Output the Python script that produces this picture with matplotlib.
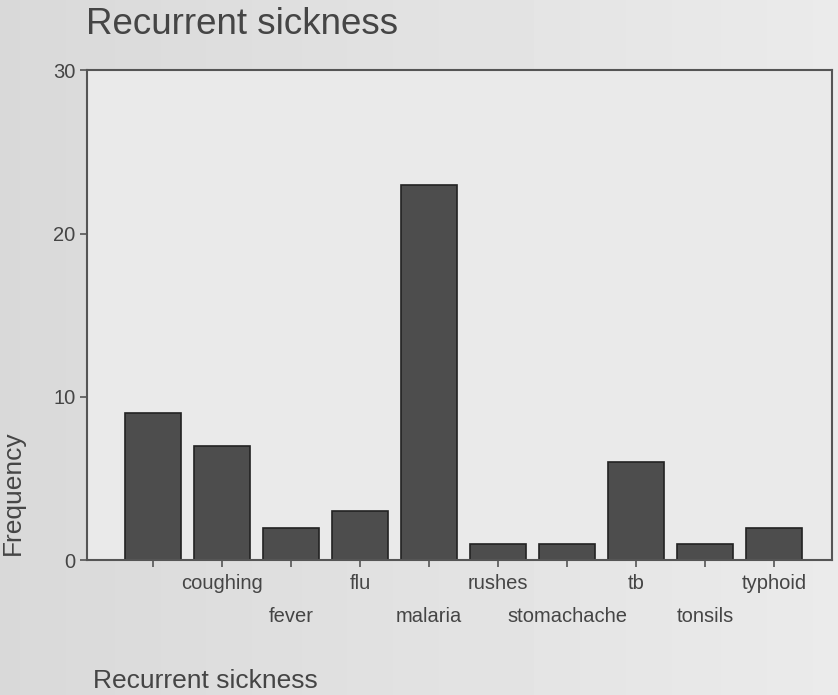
import numpy as np
import matplotlib
matplotlib.use("Agg")
import matplotlib.pyplot as plt

# data
sickness = ["", "coughing", "fever", "flu", "malaria", "rushes",
            "stomachache", "tb", "tonsils", "typhoid"]
frequency = [9, 7, 2, 3, 23, 1, 1, 6, 1, 2]
yticks = [0, 10, 20, 30]

plt.rcParams['font.family'] = ['Liberation Sans', 'DejaVu Sans']
txt = '#454545'

fig = plt.figure(figsize=(8.38, 6.95), dpi=100)
fig.patch.set_facecolor('#e4e4e4')

# soft grey scan background
bg = fig.add_axes([0, 0, 1, 1], zorder=-10)
grad = np.linspace(0.85, 0.92, 256)[None, :] * np.ones((64, 1))
bg.imshow(grad, cmap='gray', vmin=0, vmax=1, aspect='auto', extent=[0, 1, 0, 1])
bg.axis('off')

ax = fig.add_axes([0.104, 0.194, 0.889, 0.705])
ax.set_facecolor('#eaeaea')
x = np.arange(len(sickness))
ax.bar(x, frequency, width=0.81, color='#4d4d4d', edgecolor='#222222', linewidth=1.2)

ax.set_xlim(-0.96, 9.84)
ax.set_ylim(0, 30)
ax.set_yticks(yticks)
ax.set_xticks(x)
ax.set_xticklabels(sickness)
ax.tick_params(axis='both', colors='#555555', labelcolor=txt, labelsize=14.5,
               length=5, width=1.2, direction='out')
for i, tk in enumerate(ax.xaxis.get_major_ticks()):
    tk.set_pad(5 if i % 2 else 29)

for s in ax.spines.values():
    s.set_color('#555555')
    s.set_linewidth(1.5)

ax.set_ylabel("Frequency", fontsize=19, color=txt)
ax.yaxis.set_label_coords(-0.083, 0.137)

fig.text(86 / 838, 1 - 25 / 695, "Recurrent sickness", fontsize=26.5, color=txt,
         ha='left', va='center')
fig.text(93 / 838, 1 - 681 / 695, "Recurrent sickness", fontsize=19, color=txt,
         ha='left', va='center')

fig.savefig("out.png", dpi=100, facecolor=fig.get_facecolor())
